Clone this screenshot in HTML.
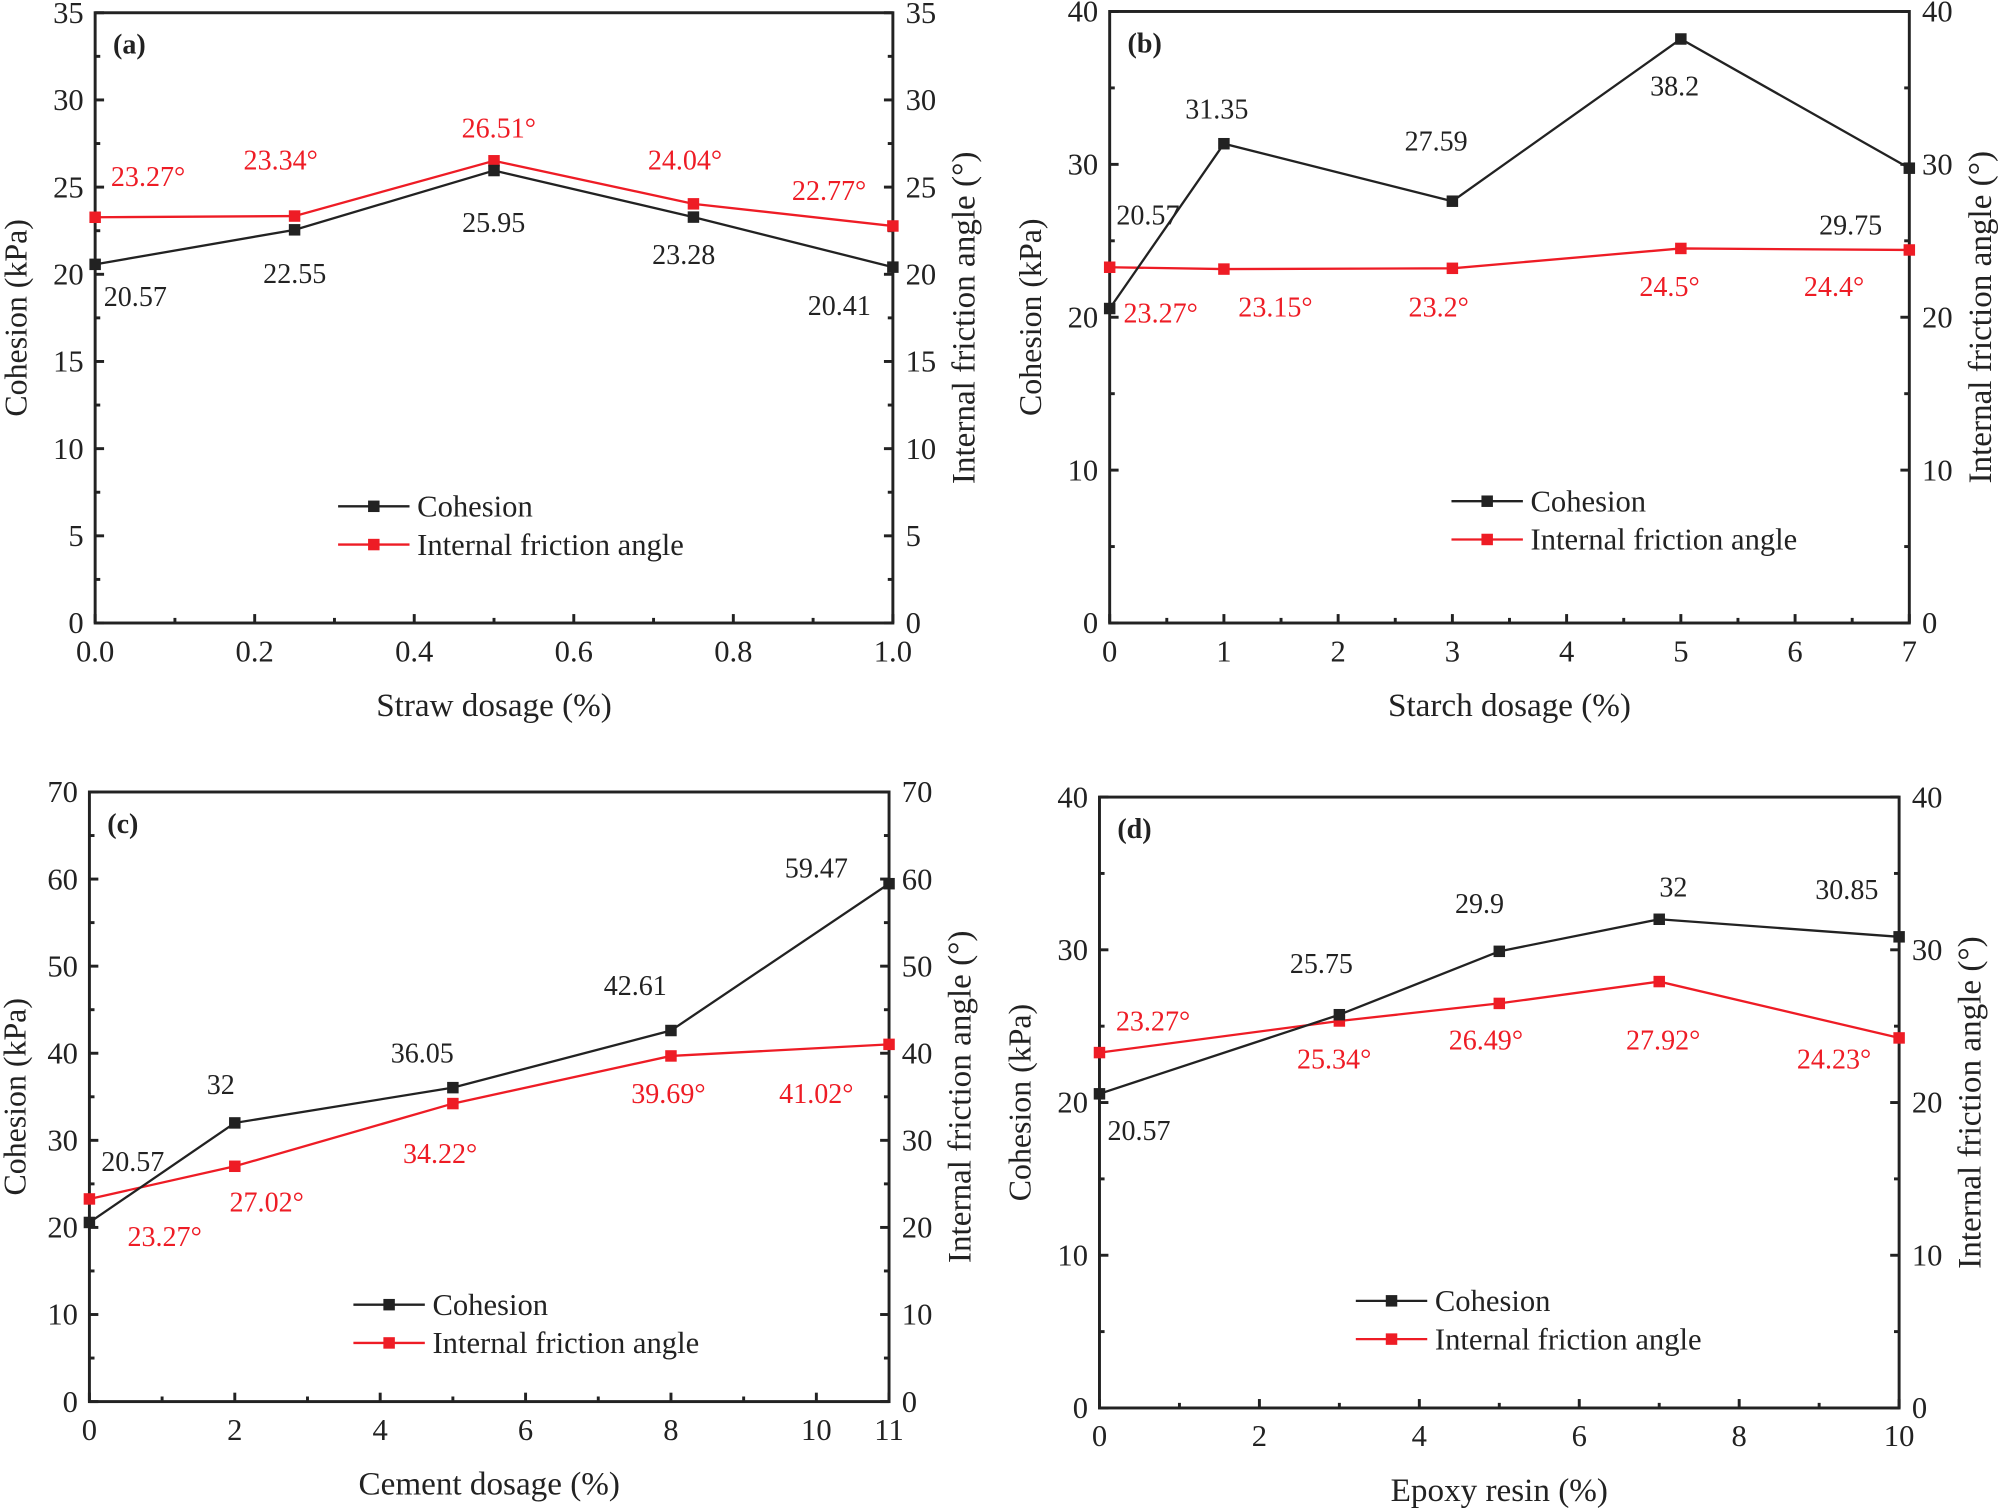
<!DOCTYPE html>
<html><head><meta charset="utf-8"><style>html,body{margin:0;padding:0;background:#fff}svg{display:block}</style></head>
<body>
<svg id="s" xmlns="http://www.w3.org/2000/svg" width="2000" height="1510" viewBox="0 0 1568 1184" font-family="Liberation Serif, serif"></svg>
<script>
const S=document.getElementById('s');let h='';
function T(x,y,t,o={}){h+=`<text x="${x}" y="${y}" font-size="${o.fs||23}" fill="${o.c||'#222'}" text-anchor="${o.a||'middle'}" ${o.w?'font-weight="bold"':''} ${o.r?`transform="rotate(-90 ${x} ${y})"`:''}>${t}</text>`;}
function panel(p){
 const {x0,x1,y0,y1,xmax,ymax,ystep,xt,xl,tag,xs,coh,fr,labC,labF,title,leg}=p;
 const X=v=>x0+(x1-x0)*v/xmax, Y=v=>y1-(y1-y0)*v/ymax;
 for(let v=0;v<=ymax+1e-9;v+=ystep/2){const y=Y(v),maj=Math.abs(v/ystep-Math.round(v/ystep))<1e-6,l=maj?7:4;
  h+=`<line x1="${x0}" y1="${y}" x2="${x0+l}" y2="${y}" stroke="#222" stroke-width="2.3"/><line x1="${x1}" y1="${y}" x2="${x1-l}" y2="${y}" stroke="#222" stroke-width="2.3"/>`;
  if(maj){T(x0-9,y+8,v,{a:'end',fs:24});T(x1+10,y+8,v,{a:'start',fs:24});}}
 xt.forEach((v,i)=>{const x=X(v);h+=`<line x1="${x}" y1="${y1}" x2="${x}" y2="${y1-7}" stroke="#222" stroke-width="2.3"/>`;T(x,y1+30,xl[i],{fs:24});});
 (p.minor||[]).forEach(v=>{const x=X(v);h+=`<line x1="${x}" y1="${y1}" x2="${x}" y2="${y1-4}" stroke="#222" stroke-width="2.3"/>`;});
 h+=`<rect x="${x0}" y="${y0}" width="${x1-x0}" height="${y1-y0}" fill="none" stroke="#222" stroke-width="2.3"/>`;
 T(x0+14,y0+32,tag,{a:'start',w:1,fs:22});
 const line=(d,c)=>{h+=`<polyline fill="none" stroke="${c}" stroke-width="1.8" points="${xs.map((x,i)=>X(x)+','+Y(d[i])).join(' ')}"/>`;xs.forEach((x,i)=>h+=`<rect x="${X(x)-4.5}" y="${Y(d[i])-4.5}" width="9" height="9" fill="${c}"/>`);};
 line(fr,'#ee1c25');line(coh,'#222');
 labC.forEach(l=>T(l[0],l[1],l[2],{fs:22}));labF.forEach(l=>T(l[0],l[1],l[2],{c:'#ee1c25',fs:22}));
 T((x0+x1)/2,y1+73,title,{fs:26});
 T(Math.max(x0-54,20),(y0+y1)/2,'Cohesion (kPa)',{r:1,fs:25});T(x1+64,(y0+y1)/2,'Internal friction angle (°)',{r:1,fs:26});
 const [lx,ly]=leg;
 h+=`<line x1="${lx}" y1="${ly}" x2="${lx+56}" y2="${ly}" stroke="#222" stroke-width="1.8"/><rect x="${lx+23.5}" y="${ly-4.5}" width="9" height="9" fill="#222"/>`;
 h+=`<line x1="${lx}" y1="${ly+30}" x2="${lx+56}" y2="${ly+30}" stroke="#ee1c25" stroke-width="1.8"/><rect x="${lx+23.5}" y="${ly+25.5}" width="9" height="9" fill="#ee1c25"/>`;
 T(lx+62,ly+8,'Cohesion',{a:'start',fs:24});T(lx+62,ly+38,'Internal friction angle',{a:'start',fs:24});
}
panel({x0:74.5,x1:700,y0:10,y1:488.5,xmax:1,ymax:35,ystep:5,xt:[0,.2,.4,.6,.8,1],xl:['0.0','0.2','0.4','0.6','0.8','1.0'],minor:[.1,.3,.5,.7,.9],tag:'(a)',
 xs:[0,.25,.5,.75,1],coh:[20.57,22.55,25.95,23.28,20.41],fr:[23.27,23.34,26.51,24.04,22.77],
 labC:[[106,240,'20.57'],[231,222,'22.55'],[387,182,'25.95'],[536,207,'23.28'],[658,247,'20.41']],
 labF:[[116,146,'23.27°'],[220,133,'23.34°'],[391,108,'26.51°'],[537,133,'24.04°'],[650,157,'22.77°']],
 title:'Straw dosage (%)',leg:[265,397]});
panel({x0:870,x1:1497,y0:9,y1:488.5,xmax:7,ymax:40,ystep:10,xt:[0,1,2,3,4,5,6,7],xl:['0','1','2','3','4','5','6','7'],minor:[.5,1.5,2.5,3.5,4.5,5.5,6.5],tag:'(b)',
 xs:[0,1,3,5,7],coh:[20.57,31.35,27.59,38.2,29.75],fr:[23.27,23.15,23.2,24.5,24.4],
 labC:[[900,176,'20.57'],[954,93,'31.35'],[1126,118,'27.59'],[1313,75,'38.2'],[1451,184,'29.75']],
 labF:[[910,253,'23.27°'],[1000,248,'23.15°'],[1128,248,'23.2°'],[1309,232,'24.5°'],[1438,232,'24.4°']],
 title:'Starch dosage (%)',leg:[1138,393]});
panel({x0:70,x1:697,y0:621,y1:1099,xmax:11,ymax:70,ystep:10,xt:[0,2,4,6,8,10,11],xl:['0','2','4','6','8','10','11'],minor:[1,3,5,7,9],tag:'(c)',
 xs:[0,2,5,8,11],coh:[20.57,32,36.05,42.61,59.47],fr:[23.27,27.02,34.22,39.69,41.02],
 labC:[[104,918,'20.57'],[173,858,'32'],[331,833,'36.05'],[498,780,'42.61'],[640,688,'59.47']],
 labF:[[129,977,'23.27°'],[209,950,'27.02°'],[345,912,'34.22°'],[524,865,'39.69°'],[640,865,'41.02°']],
 title:'Cement dosage (%)',leg:[277,1023]});
panel({x0:862,x1:1489,y0:625,y1:1104,xmax:10,ymax:40,ystep:10,xt:[0,2,4,6,8,10],xl:['0','2','4','6','8','10'],minor:[1,3,5,7,9],tag:'(d)',
 xs:[0,3,5,7,10],coh:[20.57,25.75,29.9,32,30.85],fr:[23.27,25.34,26.49,27.92,24.23],
 labC:[[893,894,'20.57'],[1036,763,'25.75'],[1160,716,'29.9'],[1312,703,'32'],[1448,705,'30.85']],
 labF:[[904,808,'23.27°'],[1046,838,'25.34°'],[1165,823,'26.49°'],[1304,823,'27.92°'],[1438,838,'24.23°']],
 title:'Epoxy resin (%)',leg:[1063,1020]});
S.innerHTML=h;
</script>
</body></html>
